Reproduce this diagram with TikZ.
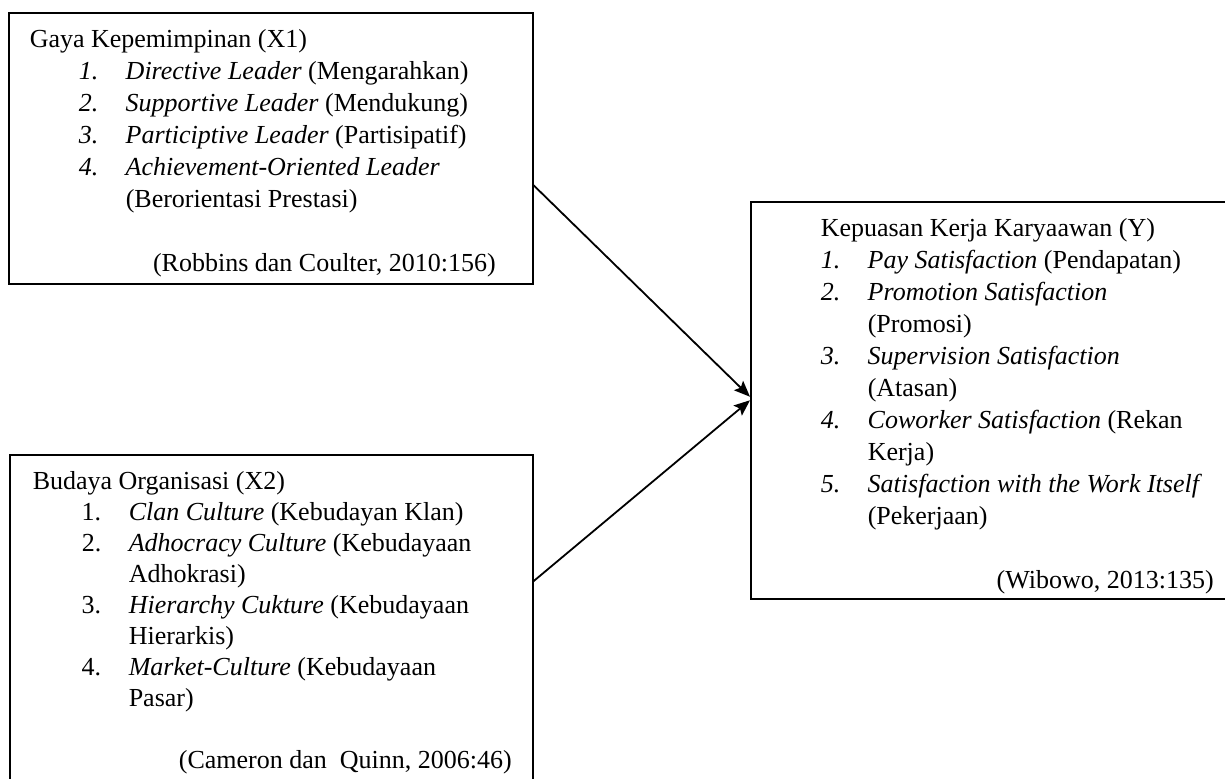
\documentclass[tikz,border=0pt]{standalone}
\usepackage{fontspec}
\setmainfont{Liberation Serif}
\usetikzlibrary{positioning,arrows.meta}
\tikzset{
	model/.style={x=0.5pt,y=-0.5pt,>={Stealth[length=8pt,width=6.5pt,inset=1.5pt]},
		line width=0.75pt},
	varbox/.style={rectangle,draw,anchor=north west,inner sep=0pt,
		font=\fontsize{13pt}{16pt}\selectfont},
	influence/.style={->,line width=0.9pt}
}
\newcommand{\firstline}{\rule{0pt}{17.5pt}}
\newcommand{\listline}[3][24.5pt]{\hspace*{#1}\makebox[23.5pt][l]{#2}#3}
\newcommand{\contline}[2][48pt]{\hspace*{#1}#2}

\begin{document}
\begin{tikzpicture}[model]
	\useasboundingbox (0,0) rectangle (1225,778);
	\clip (0,0) rectangle (1225,778);
	
	\node[varbox] (x1) at (8,12) {\parbox[t][135.5pt][t]{262pt}{\leftskip=10.5pt
		\firstline Gaya Kepemimpinan (X1)\\
		\listline{\textit{1.}}{\textit{Directive Leader} (Mengarahkan)}\\
		\listline{\textit{2.}}{\textit{Supportive Leader} (Mendukung)}\\
		\listline{\textit{3.}}{\textit{Participtive Leader} (Partisipatif)}\\
		\listline{\textit{4.}}{\textit{Achievement-Oriented Leader}}\\
		\contline{(Berorientasi Prestasi)}\\[16pt]
		\hspace*{\fill}(Robbins dan Coulter, 2010:156)\hspace*{18.5pt}}};
	\node[varbox] (x2) at (9,454) {\parbox[t][168pt][t]{261.5pt}{\leftskip=11.5pt
		\fontsize{13pt}{15.5pt}\selectfont
		\firstline Budaya Organisasi (X2)\\
		\listline{1.}{\textit{Clan Culture} (Kebudayan Klan)}\\
		\listline{2.}{\textit{Adhocracy Culture} (Kebudayaan}\\
		\contline{Adhokrasi)}\\
		\listline{3.}{\textit{Hierarchy Cukture} (Kebudayaan}\\
		\contline{Hierarkis)}\\
		\listline{4.}{\textit{Market-Culture} (Kebudayaan}\\
		\contline{Pasar)}\\[15.5pt]
		\hspace*{\fill}(Cameron dan~ Quinn, 2006:46)\hspace*{10.5pt}}};
	\node[varbox] (y) at (750,201) {\parbox[t][198.5pt][t]{245pt}{\leftskip=35pt
		\firstline Kepuasan Kerja Karyaawan (Y)\\
		\listline[0pt]{\textit{1.}}{\textit{Pay Satisfaction} (Pendapatan)}\\
		\listline[0pt]{\textit{2.}}{\textit{Promotion Satisfaction}}\\
		\contline[23.5pt]{(Promosi)}\\
		\listline[0pt]{\textit{3.}}{\textit{Supervision Satisfaction}}\\
		\contline[23.5pt]{(Atasan)}\\
		\listline[0pt]{\textit{4.}}{\textit{Coworker Satisfaction} (Rekan}\\
		\contline[23.5pt]{Kerja)}\\
		\listline[0pt]{\textit{5.}}{\textit{Satisfaction with the Work Itself}}\\
		\contline[23.5pt]{(Pekerjaan)}\\[16pt]
		\hspace*{\fill}(Wibowo, 2013:135)\hspace*{13.5pt}}};
	
	\draw[influence] (x1.-8.15) -- ([yshift=1.75pt]y.west);
	\draw[influence] (x2.9.55) -- (y.west);
\end{tikzpicture}
\end{document}
